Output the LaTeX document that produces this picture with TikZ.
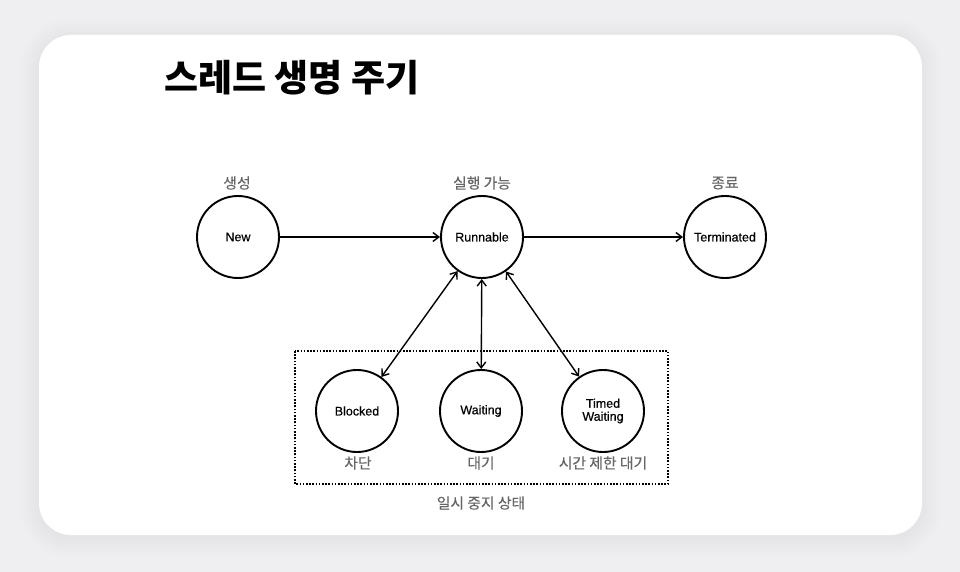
\documentclass[tikz,border=0pt]{standalone}
\usepackage{fontspec}
\setmainfont{Liberation Sans}
\newfontfamily\medfont[FakeBold=0.5]{Liberation Sans}
\newfontfamily\cjk{Noto Sans CJK KR}
\newfontfamily\cjkmed[FakeBold=0.3]{Noto Sans CJK KR}
\usetikzlibrary{arrows.meta}
\definecolor{bgc}{HTML}{EFEFF1}
\definecolor{lblc}{HTML}{666666}
\tikzset{
  state/.style={circle,draw=black,line width=1.9pt,fill=white,minimum size=82pt,inner sep=0pt,align=center,font=\medfont\fontsize{12.5}{14}\selectfont},
  lbl/.style={text=lblc,font=\cjkmed\fontsize{14.8}{17}\selectfont,inner sep=0pt},
  conn/.style={line width=1.4pt,-{Straight Barb[length=6pt,width=9pt,line width=1.4pt]}},
  dconn/.style={line width=1.4pt,{Straight Barb[length=6pt,width=9pt,line width=1.4pt]}-{Straight Barb[length=6pt,width=9pt,line width=1.4pt]}}
}
\begin{document}
\begin{tikzpicture}[x=1pt,y=-1pt]
\useasboundingbox (0,0) rectangle (960,572);
\fill[bgc] (0,0) rectangle (960,572);
% shadow
\foreach \d in {2,4,...,20}{
  \fill[black,opacity=0.005,rounded corners={32pt+\d pt}] (39-\d,35-\d+3) rectangle (922+\d,535+\d+3);
}
\fill[white,rounded corners=32pt] (39,35) rectangle (922,535);
% title
\node[anchor=west,inner sep=0pt,font=\cjk\bfseries\fontsize{37}{40}\selectfont] (title) at (164,78) {스레드 생명 주기};
% group box
\draw[line width=1.6pt,dash pattern=on 1.6pt off 1.6pt] (295,351) rectangle (668,484);
% states
\node[state] (new) at (238,237) {New};
\node[state] (run) at (482,237) {Runnable};
\node[state] (term) at (725,237) {Terminated};
\node[state] (blk) at (357,411) {Blocked};
\node[state] (wait) at (481,411) {Waiting};
\node[state] (tw) at (603,411) {Timed\\[-1pt]Waiting};
% labels
\node[lbl] (lnew) at (237,183) {생성};
\node[lbl] (lrun) at (482,183) {실행 가능};
\node[lbl] (lterm) at (725,183) {종료};
\node[lbl] (lblk) at (358,463) {차단};
\node[lbl] (lwait) at (481,463) {대기};
\node[lbl] (ltw) at (603,463) {시간 제한 대기};
\node[lbl] (lgrp) at (481,503) {일시 중지 상태};
% connectors
\draw[conn] (new) -- (run);
\draw[conn] (run) -- (term);
\draw[dconn] (run) -- (blk);
\draw[dconn] (run) -- (wait);
\draw[dconn] (run) -- (tw);
\end{tikzpicture}
\end{document}
